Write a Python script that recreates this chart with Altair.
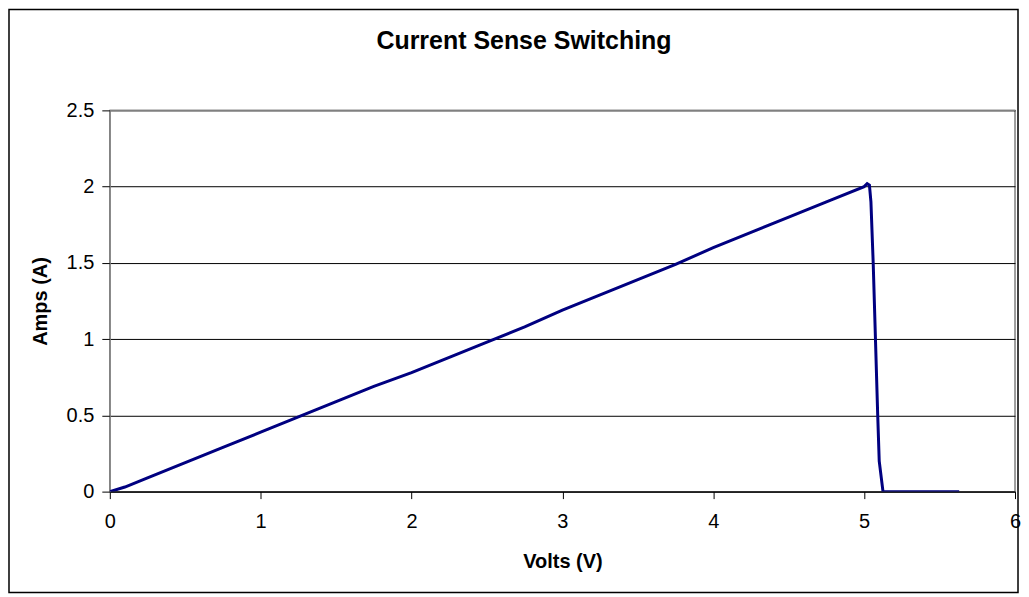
import altair as alt
import pandas as pd

volts = [0.0, 0.1, 0.25, 0.5, 0.75, 1.0, 1.25, 1.5, 1.75, 2.0, 2.25, 2.5, 2.75, 3.0,
         3.25, 3.5, 3.75, 4.0, 4.25, 4.5, 4.75, 5.0, 5.02, 5.035, 5.045, 5.06, 5.075,
         5.09, 5.1, 5.125, 5.63]
amps = [0.0, 0.03, 0.09, 0.19, 0.29, 0.39, 0.49, 0.59, 0.69, 0.78, 0.88, 0.98, 1.08, 1.19,
        1.29, 1.39, 1.49, 1.60, 1.70, 1.80, 1.90, 2.00, 2.02, 2.01, 1.90, 1.50, 1.00,
        0.50, 0.20, 0.0, 0.0]
title_text = ["Current Sense Switching"]

df = pd.DataFrame({"Volts": volts, "Amps": amps, "order": list(range(len(volts)))})

FONT = "Liberation Sans"

line = alt.Chart(df).mark_line(color="#000080", strokeWidth=3, clip=True).encode(
    x=alt.X("Volts:Q", scale=alt.Scale(domain=[0, 6], nice=False),
            axis=alt.Axis(title="Volts (V)", values=[0, 1, 2, 3, 4, 5, 6], format="d",
                          grid=False, domainColor="#000000", tickColor="#000000",
                          labelFlush=False, labelOverlap=False,
                          tickSize=7, labelPadding=13, titlePadding=20)),
    y=alt.Y("Amps:Q", scale=alt.Scale(domain=[0, 2.5], nice=False),
            axis=alt.Axis(title="Amps (A)", values=[0, 0.5, 1, 1.5, 2, 2.5], format="~g",
                          grid=True, gridColor="#000000", gridWidth=1,
                          domainColor="#808080", tickColor="#000000",
                          labelFlush=False, labelOverlap=False,
                          tickSize=8, labelPadding=8, titlePadding=16)),
    order="order:Q",
)

top_edge = alt.Chart(pd.DataFrame({"a": [0]})).mark_rule(
    color="#808080", strokeWidth=1.5
).encode(x=alt.value(0), x2=alt.value(907), y=alt.value(0))

title = alt.Chart(pd.DataFrame({"t": title_text})).mark_text(
    font=FONT, fontSize=25, fontWeight="bold", color="#000000",
    align="center", baseline="middle"
).encode(text="t:N", x=alt.value(415), y=alt.value(-69))

border = alt.Chart(pd.DataFrame({"a": [0]})).mark_rect(
    fill=None, stroke="#000000", strokeWidth=1.5, clip=False
).encode(x=alt.value(-101), x2=alt.value(910), y=alt.value(-101), y2=alt.value(483))

chart = alt.layer(line, top_edge, title, border).properties(
    width=907,
    height=382,
    padding={"left": 102, "top": 102, "right": 6, "bottom": 102},
    autosize=alt.AutoSizeParams(type="none"),
).configure_view(
    stroke="#808080", strokeWidth=1.5
).configure_axis(
    labelFont=FONT, titleFont=FONT, labelFontSize=20, titleFontSize=20,
    labelColor="#000000", titleColor="#000000", titleFontWeight="bold",
)

chart.save("out.html", embed_options={"renderer": "svg", "actions": False})
